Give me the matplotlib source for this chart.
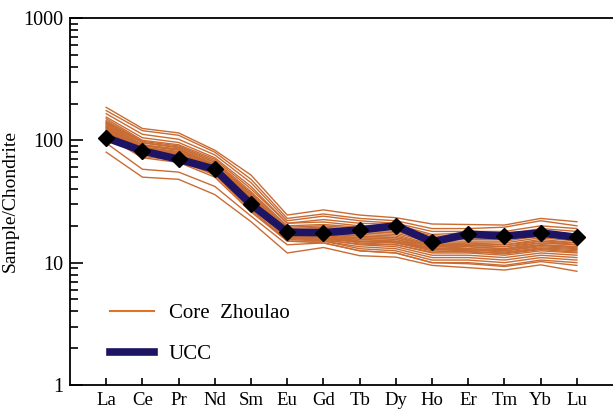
import numpy as np
import matplotlib
matplotlib.use("Agg")
import matplotlib.pyplot as plt
from matplotlib.ticker import LogLocator, NullFormatter, FixedLocator, FixedFormatter
from matplotlib.lines import Line2D

elements = ["La", "Ce", "Pr", "Nd", "Sm", "Eu", "Gd", "Tb", "Dy", "Ho", "Er", "Tm", "Yb", "Lu"]

# UCC normalised to chondrite
ucc = [105, 82, 70, 58, 30, 17.7, 17.6, 18.5, 20, 14.8, 17.1, 16.5, 17.5, 16.1]

# Core Zhoulao samples normalised to chondrite
zhoulao = [
  [186, 125, 115, 83, 52, 24.5, 27, 24.5, 23.3, 20.7, 20.5, 20.3, 23, 21.6],
  [175, 120, 110, 80, 48, 23, 25, 23, 22, 19, 19, 19.5, 22, 20],
  [165, 112, 102, 76, 45, 22, 24, 22, 21, 18, 18, 18, 20, 19],
  [155, 105, 96, 72, 42, 21, 22.5, 21, 20.5, 17, 17.5, 17, 19, 18],
  [150, 100, 92, 70, 40, 21, 21.5, 20, 20, 16.5, 16.5, 16.5, 18, 17],
  [145, 98, 90, 68, 38, 20, 20.5, 19.5, 19.5, 16, 16, 16, 17.5, 16.5],
  [142, 96, 88, 66, 36, 18, 17, 16.5, 16, 14, 14.5, 14, 15, 14.5],
  [140, 95, 87, 66, 37, 19.5, 20, 19, 19, 15.5, 15.5, 15.5, 17, 16],
  [138, 92, 85, 64, 36, 19, 19.5, 18.5, 18, 15, 15, 15, 16.5, 15.5],
  [136, 91, 84, 63, 34, 17.5, 16.5, 16, 15.5, 13.5, 14, 13.5, 14.5, 14],
  [135, 90, 83, 63, 35, 18.5, 19, 18, 17.5, 14.5, 14.5, 14.5, 16, 15],
  [132, 88, 81, 62, 34, 18, 18.5, 17.5, 17, 14, 14, 14, 15.5, 14.5],
  [130, 87, 80, 61, 33, 18, 18, 17, 16.5, 13.8, 13.8, 13.5, 15, 14],
  [128, 87, 80, 60, 33, 17, 16, 15.5, 15, 13, 13.5, 13, 14, 13.5],
  [128, 86, 79, 60, 32, 17.5, 17.5, 16.5, 16, 13.5, 13.5, 13, 14.5, 14],
  [125, 85, 78, 59, 31, 17, 17, 16, 15.5, 13, 13, 12.8, 14, 13.5],
  [124, 84, 77, 58, 31, 16.5, 15.8, 15, 14.8, 13.2, 13, 12.5, 13.8, 13.2],
  [122, 83, 76, 58, 30, 17, 16.8, 15.5, 15, 12.8, 12.5, 12.5, 13.5, 13],
  [120, 82, 75, 57, 30, 16.5, 16.5, 15, 14.5, 12.5, 12.2, 12, 13, 12.5],
  [119, 81, 74, 56, 30, 16.2, 15.5, 14.8, 14.5, 12.8, 12.8, 12.2, 13.2, 12.8],
  [118, 80, 74, 56, 29, 16, 16, 14.5, 14, 12, 12, 11.5, 12.5, 12],
  [116, 79, 73, 55, 29, 15.8, 15.2, 14.2, 14, 12.2, 12.4, 11.8, 12.8, 12.2],
  [115, 78, 72, 55, 28, 16, 15.5, 14, 13.5, 11.5, 11.5, 11, 12, 11.5],
  [112, 76, 70, 53, 27, 15.5, 15, 13.5, 13, 11, 11, 10.5, 11.5, 11],
  [110, 74, 68, 52, 27, 15, 15, 13, 12.5, 10.5, 10.5, 10, 11, 10.5],
  [108, 72, 66, 50, 26, 15, 14.5, 12.5, 12, 10, 10, 9.5, 10.5, 10],
  [95, 58, 55, 42, 24, 14, 14.5, 12.5, 12, 10, 9.8, 9.3, 10.2, 9.5],
  [80, 50, 48, 36, 21.6, 12, 13.3, 11.4, 11.1, 9.5, 9.1, 8.7, 9.6, 8.5],
]

plt.rcParams['font.family'] = ['Liberation Serif', 'DejaVu Serif']

fig = plt.figure(figsize=(6.13, 4.11), dpi=100)
ax = fig.add_axes([0.1142, 0.0633, 0.886, 0.8929])

x = np.arange(len(elements))
for row in zhoulao:
  ax.plot(x, row, color='#C96C34', lw=1.0)
ax.plot(x, ucc, color='#1E1464', lw=5.5, marker='D', markersize=8.5,
        markerfacecolor='black', markeredgecolor='black')

ax.set_yscale('log')
ax.set_ylim(1, 1000)
ax.set_xlim(-1, 14)
ax.yaxis.set_major_locator(FixedLocator([1, 10, 100, 1000]))
ax.yaxis.set_major_formatter(FixedFormatter(['1', '10', '100', '1000']))
ax.yaxis.set_minor_locator(LogLocator(base=10, subs=np.arange(2, 10)))
ax.yaxis.set_minor_formatter(NullFormatter())
ax.set_xticks(x)
ax.set_xticklabels(elements)

ax.tick_params(axis='y', which='major', direction='in', labelsize=14.5, width=1.2, length=9, pad=5)
ax.tick_params(axis='y', which='minor', direction='in', length=6, width=1.2)
ax.tick_params(axis='x', which='major', direction='in', labelsize=13.5, width=1.2, length=5, pad=5)
ax.spines['right'].set_visible(False)
for s in ['left', 'bottom', 'top']:
  ax.spines[s].set_linewidth(1.3)

ax.set_ylabel('Sample/Chondrite', fontsize=14, labelpad=3)

handles = [Line2D([], [], color='#DD7428', lw=1.5),
           Line2D([], [], color='#1E1464', lw=5.5)]
ax.legend(handles, ['Core  Zhoulao', 'UCC'], loc='lower left', bbox_to_anchor=(0.04, 0.005),
          frameon=False, fontsize=15, handlelength=2.1, handletextpad=0.7, labelspacing=1.05)

fig.savefig('out.png', dpi=100)
